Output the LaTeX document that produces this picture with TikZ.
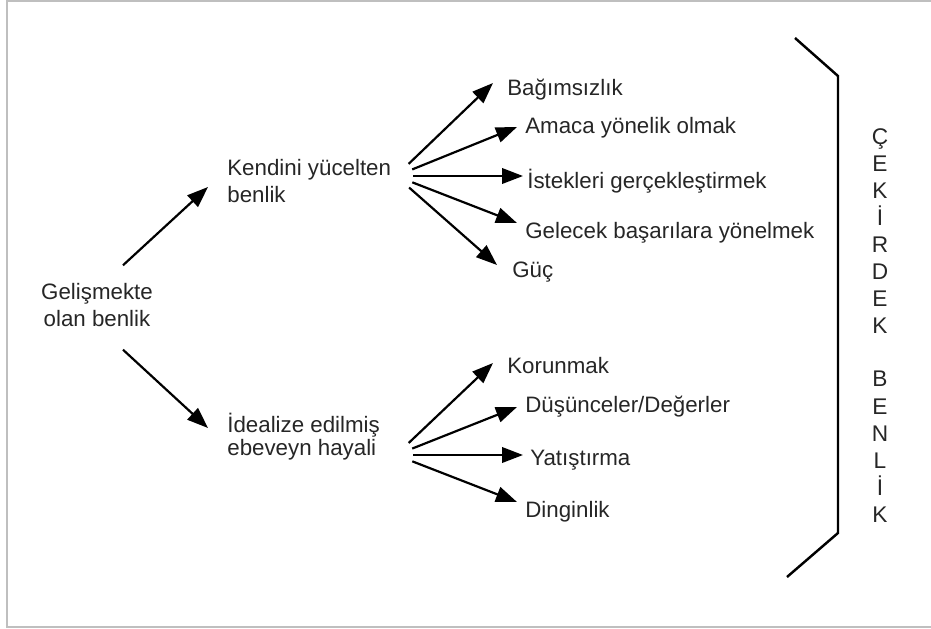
\documentclass[tikz,border=0pt]{standalone}
\usepackage{fontspec}
\setmainfont{Liberation Sans}
\usetikzlibrary{arrows.meta}
\begin{document}
\begin{tikzpicture}[x=0.02cm,y=-0.02cm,
  lbl/.style={anchor=base west,inner sep=0pt,text=black!85,
    font=\fontsize{12.7}{15}\selectfont},
  arr/.style={-{Triangle[length=0.42cm,width=0.31cm]},line width=1.25pt},
  fan/.style={arr,shorten <=0.35cm},
  brk/.style={line width=1.4pt}]
  \useasboundingbox (0,0) rectangle (931,629);
  \draw[black!25,line width=0.8pt] (7,1) rectangle (960,627);

  % Developing self and its two branches.
  \node[lbl,anchor=center,align=center] (gel) at (97,305) {Gelişmekte\\olan benlik};
  \node[lbl,anchor=west,align=left] (ky) at (227,181) {Kendini yücelten\\benlik};
  \node[lbl,anchor=west,align=left] (ide) at (227,437)
    {İdealize edilmiş\\[-2pt]ebeveyn hayali};
  \draw[arr] ([shift={(26,-18)}]gel.north) -- ([shift={(-19,6)}]ky.west);
  \draw[arr] ([shift={(26,23)}]gel.south) -- ([shift={(-19,-9)}]ide.west);

  % Self-glorifying branch.
  \coordinate (kyfan) at (396,176);
  \node[lbl] (bag) at (507,95) {Bağımsızlık};
  \node[lbl] (ama) at (525,133) {Amaca yönelik olmak};
  \node[lbl] (ist) at (527,188) {İstekleri gerçekleştirmek};
  \node[lbl] (gbs) at (525,238) {Gelecek başarılara yönelmek};
  \node[lbl] (guc) at (512,277) {Güç};
  \foreach \nm/\dx/\dy in {bag/-14/-12, ama/-8/-6, ist/-4/-12, gbs/-8/-15, guc/-15/-12}
    \draw[fan] (kyfan) -- ([shift={(\dx,\dy)}]\nm.base west);

  % Idealized parent image branch.
  \coordinate (idefan) at (396,455);
  \node[lbl] (kor) at (507,373) {Korunmak};
  \node[lbl] (dus) at (525,412) {Düşünceler/Değerler};
  \node[lbl] (yat) at (530,465) {Yatıştırma};
  \node[lbl] (din) at (525,517) {Dinginlik};
  \foreach \nm/\dx/\dy in {kor/-14/-10, dus/-8/-5, yat/-7/-10, din/-8/-15}
    \draw[fan] (idefan) -- ([shift={(\dx,\dy)}]\nm.base west);

  % Core self bracket.
  \draw[brk] (795,38) -- (838,76) -- (838,533) -- (787,577);
  \node[lbl,anchor=north,align=center,font=\fontsize{12.9}{15.4}\selectfont] (core)
    at (880,128) {Ç\\E\\K\\İ\\R\\D\\E\\K\\[15pt]B\\E\\N\\L\\İ\\K};
\end{tikzpicture}
\end{document}
